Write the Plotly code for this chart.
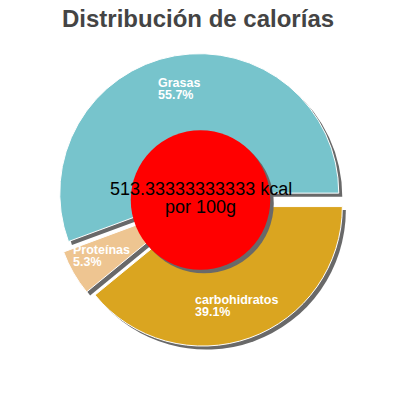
import math
import plotly.graph_objects as go

# calorie split (percent of total energy)
labels = ['Grasas', 'Proteínas', 'carbohidratos']
values = [55.7, 5.3, 39.1]
colors = ['#77C4CC', '#EEC591', '#DAA520']
kcal = '513.33333333333'
per_text = 'por 100g'
title = 'Distribución de calorías'

W = H = 400
OFF = 8                 # page body margin, px
cx, cy = 200.5, 200.0   # pie centre, px
r = 139.5               # pie radius, px
pull = 0.05
sh = 3.5                # shadow offset, px
font = 'Liberation Sans, Arial, sans-serif'


def px(x):
    return (x - OFF) / W


def py(y):
    return 1 - (y - OFF) / H


total = sum(values)
half = r * (1 + pull)
start = 90 - 360 * values[0] / total


def make_pie(dx, dy, marker):
    return go.Pie(
        values=values, labels=labels, sort=False,
        direction='counterclockwise', rotation=start, pull=pull,
        domain=dict(x=[px(cx - half + dx), px(cx + half + dx)],
                    y=[py(cy + half + dy), py(cy - half + dy)]),
        marker=marker, textinfo='none', hoverinfo='skip', showlegend=False,
    )


fig = go.Figure()
# shadow underneath, then the real slices
fig.add_trace(make_pie(sh, sh, dict(colors=['#696969'] * len(values), line=dict(width=0))))
fig.add_trace(make_pie(0, 0, dict(colors=colors, line=dict(color='white', width=1))))

# red disc in the middle (with its own shadow)
rr = r / 2
shapes = []
for off, col in [(sh, '#696969'), (0, '#FF0000')]:
    shapes.append(dict(type='circle', xref='paper', yref='paper',
                       x0=px(cx - rr + off), x1=px(cx + rr + off),
                       y0=py(cy + rr + off), y1=py(cy - rr + off),
                       fillcolor=col, line=dict(width=0)))

annotations = [
    dict(text=title, x=px(197.5), y=py(18), xref='paper', yref='paper',
         showarrow=False, xanchor='center', yanchor='middle',
         font=dict(family=font, size=24, color='#444444', weight='bold')),
    dict(text=kcal + ' kcal', x=px(cx), y=py(189), xref='paper', yref='paper',
         showarrow=False, xanchor='center', yanchor='middle',
         font=dict(family=font, size=18, color='black')),
    dict(text=per_text, x=px(cx), y=py(206.5), xref='paper', yref='paper',
         showarrow=False, xanchor='center', yanchor='middle',
         font=dict(family=font, size=18, color='black')),
]

# slice labels, placed along each slice's middle angle
acc = 0
for lab, v in zip(labels, values):
    ang = math.radians(acc + 360 * v / total / 2)
    acc += 360 * v / total
    d = (pull + 0.755) * r
    lx = cx + d * math.cos(ang) - 1.5
    ly = cy - d * math.sin(ang)
    txt = ('<span style="font-size:12.5px">%s</span><br>'
           '<span style="font-size:12.5px">%.1f%%</span>' % (lab, v))
    annotations.append(dict(text=txt, x=px(lx), y=py(ly), xref='paper', yref='paper',
                            showarrow=False, xanchor='center', yanchor='middle', align='left',
                            font=dict(family=font, size=9.5, color='white', weight='bold')))

fig.update_layout(
    width=W, height=H,
    margin=dict(l=0, r=0, t=0, b=0),
    paper_bgcolor='white', plot_bgcolor='white',
    showlegend=False,
    shapes=shapes,
    annotations=annotations,
)

fig.write_html('out.html')
